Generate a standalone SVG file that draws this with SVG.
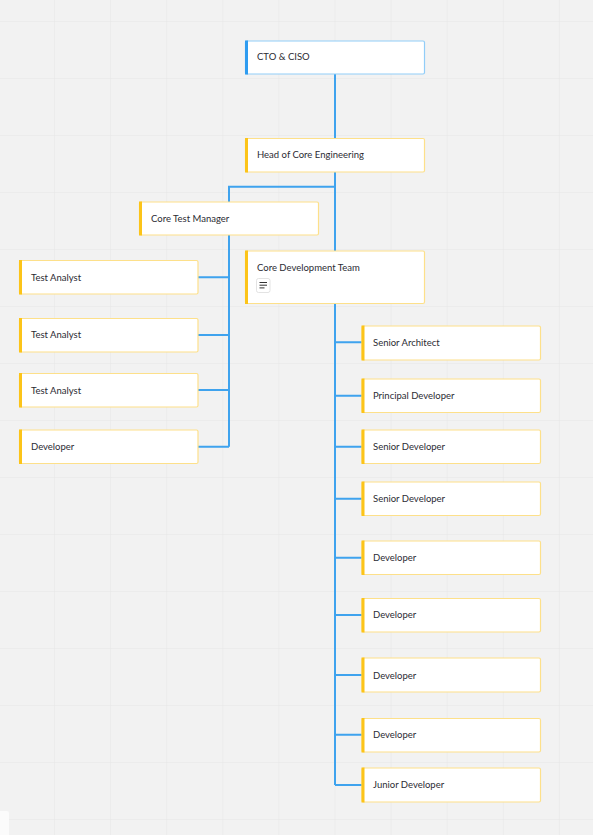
<svg xmlns="http://www.w3.org/2000/svg" width="593" height="835" viewBox="0 0 593 835">
<defs>
<pattern id="grid" x="54" y="21" width="56.1" height="57" patternUnits="userSpaceOnUse">
<path d="M0 0V57M0 0H56.1" fill="none" stroke="#e6e6e6" stroke-width="1"/>
</pattern>
</defs>
<style>
.box{fill:#ffffff;stroke:#fde08a;stroke-width:1.2}
.bar{fill:#fcc419}
.bbox{fill:#ffffff;stroke:#91cdf8;stroke-width:1.2}
.bbar{fill:#2f9cf0}
.t{font-family:Lato,"Open Sans","Liberation Sans",sans-serif;font-size:9.5px;fill:#2b2b33}
.c{fill:none;stroke:#3fa3ee;stroke-width:2}
</style>
<rect width="593" height="835" fill="#f2f2f2"/>
<rect width="593" height="835" fill="url(#grid)"/>
<rect x="-3" y="811" width="12" height="30" rx="2" fill="#fbfbfb"/>
<g id="connectors">
<path class="c" d="M335 74V785"/>
<path class="c" d="M335 186.7H229V446.7"/>
<path class="c" d="M198 277.3H229M198 335H229M198 390H229M198 446.7H229"/>
<path class="c" d="M335 342.3H362M335 395.7H362M335 446.7H362M335 498.7H362M335 557.7H362M335 615H362M335 675H362M335 734.7H362M335 785H362"/>
</g>
<g id="n-cto"><rect class="bbox" x="245.5" y="41" width="179" height="33" rx="1.5"/><rect class="bbar" x="245" y="40.5" width="3" height="34"/><text class="t" x="257" y="60">CTO &amp; CISO</text></g>
<g id="n-head"><rect class="box" x="245.5" y="138.5" width="179" height="33.5" rx="1.5"/><rect class="bar" x="245" y="138" width="3" height="34.5"/><text class="t" x="257" y="158">Head of Core Engineering</text></g>
<g id="n-ctm"><rect class="box" x="139.5" y="202" width="179" height="33" rx="1.5"/><rect class="bar" x="139" y="201.5" width="3" height="34"/><text class="t" x="151" y="221.5">Core Test Manager</text></g>
<g id="n-cdt"><rect class="box" x="245.5" y="251" width="179" height="52.5" rx="1.5"/><rect class="bar" x="245" y="250.5" width="3" height="53.5"/><text class="t" x="257" y="270.5">Core Development Team</text>
<rect x="256.5" y="278.5" width="13.5" height="14" rx="2" fill="#ffffff" stroke="#dcdcdc" stroke-width="0.8"/><path d="M259.5 282.5h7.5M259.5 285.2h7.5M259.5 287.9h5" stroke="#333" stroke-width="1"/></g>
<g id="n-ta1"><rect class="box" x="19.5" y="260.5" width="178.5" height="33.5" rx="1.5"/><rect class="bar" x="19" y="260" width="3" height="34.5"/><text class="t" x="31" y="280.5">Test Analyst</text></g>
<g id="n-ta2"><rect class="box" x="19.5" y="318.5" width="178.5" height="33.5" rx="1.5"/><rect class="bar" x="19" y="318" width="3" height="34.5"/><text class="t" x="31" y="338">Test Analyst</text></g>
<g id="n-ta3"><rect class="box" x="19.5" y="373.5" width="178.5" height="33.5" rx="1.5"/><rect class="bar" x="19" y="373" width="3" height="34.5"/><text class="t" x="31" y="393.5">Test Analyst</text></g>
<g id="n-dev0"><rect class="box" x="19.5" y="430" width="178.5" height="33.5" rx="1.5"/><rect class="bar" x="19" y="429.5" width="3" height="34.5"/><text class="t" x="31" y="450">Developer</text></g>
<g id="n-sa"><rect class="box" x="362" y="326" width="178.5" height="34" rx="1.5"/><rect class="bar" x="361.5" y="325.5" width="3" height="35"/><text class="t" x="373" y="345.5">Senior Architect</text></g>
<g id="n-pd"><rect class="box" x="362" y="379" width="178.5" height="33.5" rx="1.5"/><rect class="bar" x="361.5" y="378.5" width="3" height="34.5"/><text class="t" x="373" y="398.5">Principal Developer</text></g>
<g id="n-sd1"><rect class="box" x="362" y="430" width="178.5" height="33.5" rx="1.5"/><rect class="bar" x="361.5" y="429.5" width="3" height="34.5"/><text class="t" x="373" y="450">Senior Developer</text></g>
<g id="n-sd2"><rect class="box" x="362" y="482" width="178.5" height="33.5" rx="1.5"/><rect class="bar" x="361.5" y="481.5" width="3" height="34.5"/><text class="t" x="373" y="502">Senior Developer</text></g>
<g id="n-d1"><rect class="box" x="362" y="541" width="178.5" height="33.5" rx="1.5"/><rect class="bar" x="361.5" y="540.5" width="3" height="34.5"/><text class="t" x="373" y="561">Developer</text></g>
<g id="n-d2"><rect class="box" x="362" y="598.5" width="178.5" height="33.5" rx="1.5"/><rect class="bar" x="361.5" y="598" width="3" height="34.5"/><text class="t" x="373" y="618">Developer</text></g>
<g id="n-d3"><rect class="box" x="362" y="658" width="178.5" height="34" rx="1.5"/><rect class="bar" x="361.5" y="657.5" width="3" height="35"/><text class="t" x="373" y="678.5">Developer</text></g>
<g id="n-d4"><rect class="box" x="362" y="718.5" width="178.5" height="33.5" rx="1.5"/><rect class="bar" x="361.5" y="718" width="3" height="34.5"/><text class="t" x="373" y="738">Developer</text></g>
<g id="n-jd"><rect class="box" x="362" y="768" width="178.5" height="34" rx="1.5"/><rect class="bar" x="361.5" y="767.5" width="3" height="35"/><text class="t" x="373" y="788">Junior Developer</text></g>
</svg>
